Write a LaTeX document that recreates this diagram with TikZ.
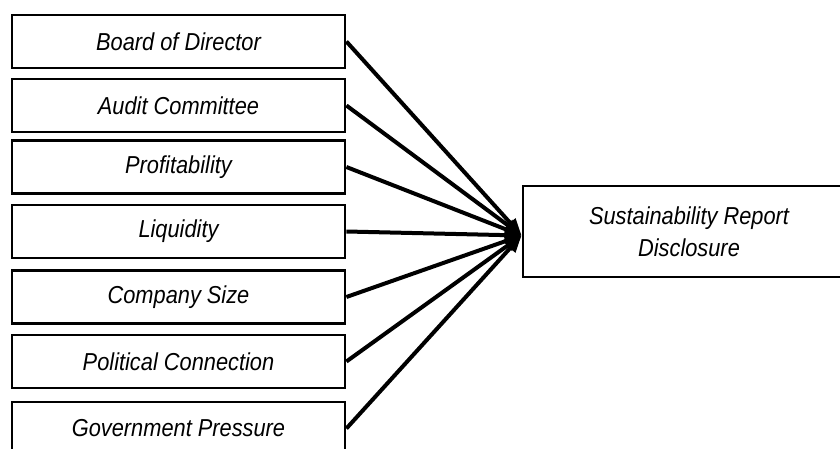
\documentclass[tikz,border=0pt]{standalone}
\usepackage{fontspec}
\setmainfont{Liberation Sans}[FakeStretch=0.89]
\usetikzlibrary{arrows.meta}
\begin{document}
\begin{tikzpicture}[x=1pt,y=-1pt,
  box/.style={draw, line width=2.8pt, minimum width=333pt, minimum height=53pt, inner sep=0pt,
    font=\fontsize{24.5}{32}\selectfont\itshape, align=center},
  conn/.style={line width=4pt, -{Triangle[length=17pt,width=13pt]}}]
\useasboundingbox (0,0) rectangle (840,449);
\clip (0,0) rectangle (840,449);
\node[box] (b1) at (178.5,41.5) {Board of Director};
\node[box] (b2) at (178.5,105.5) {Audit Committee};
\node[box] (b3) at (178.5,167) {Profitability};
\node[box] (b4) at (178.5,231.5) {Liquidity};
\node[box] (b5) at (178.5,297) {Company Size};
\node[box] (b6) at (178.5,361.5) {Political Connection};
\node[box] (b7) at (178.5,428.5) {Government Pressure};
\node[box, minimum width=332pt, minimum height=91pt] (r) at (689,231.5) {Sustainability Report\\Disclosure};
\foreach \n in {b1,b2,b3,b4,b5,b6,b7}
  \draw[conn] (\n.east) -- ([yshift=-4pt]r.west);
\end{tikzpicture}
\end{document}
